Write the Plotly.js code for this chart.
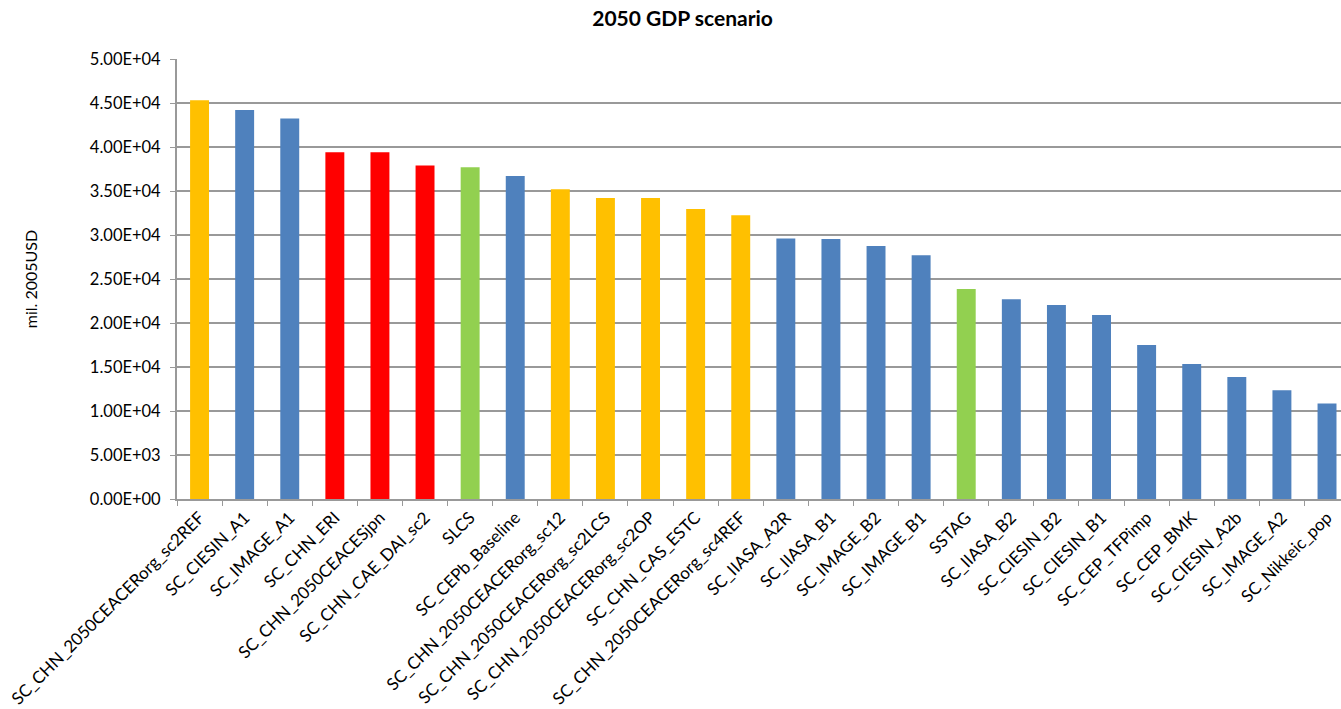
<!DOCTYPE html>
<html>
<head>
<meta charset="utf-8">
<script src="https://cdn.plot.ly/plotly-3.0.1.min.js"></script>
<style>html,body{margin:0;padding:0;background:#fff;}#chart{width:1341px;height:709px;}</style>
</head>
<body>
<div id="chart"></div>
<script>
const scenarios = [
  "SC_CHN_2050CEACERorg_sc2REF","SC_CIESIN_A1","SC_IMAGE_A1","SC_CHN_ERI","SC_CHN_2050CEACESjpn",
  "SC_CHN_CAE_DAI_sc2","SLCS","SC_CEPb_Baseline","SC_CHN_2050CEACERorg_sc12","SC_CHN_2050CEACERorg_sc2LCS",
  "SC_CHN_2050CEACERorg_sc2OP","SC_CHN_CAS_ESTC","SC_CHN_2050CEACERorg_sc4REF","SC_IIASA_A2R","SC_IIASA_B1",
  "SC_IMAGE_B2","SC_IMAGE_B1","SSTAG","SC_IIASA_B2","SC_CIESIN_B2",
  "SC_CIESIN_B1","SC_CEP_TFPimp","SC_CEP_BMK","SC_CIESIN_A2b","SC_IMAGE_A2","SC_Nikkeic_pop"
];
const gdp2050 = [
  45300, 44200, 43250, 39400, 39400,
  37900, 37700, 36700, 35200, 34200,
  34200, 32950, 32250, 29600, 29550,
  28750, 27700, 23850, 22700, 22050,
  20900, 17500, 15350, 13850, 12350, 10850
];
const barGroups = [
  "orange","blue","blue","red","red",
  "red","green","blue","orange","orange",
  "orange","orange","orange","blue","blue",
  "blue","blue","green","blue","blue",
  "blue","blue","blue","blue","blue","blue"
];
const groupColors = {orange:"#FFC000", blue:"#4F81BD", red:"#FF0000", green:"#92D050"};
const yTickVals = [0,5000,10000,15000,20000,25000,30000,35000,40000,45000,50000];
const yTickText = ["0.00E+00","5.00E+03","1.00E+04","1.50E+04","2.00E+04","2.50E+04","3.00E+04","3.50E+04","4.00E+04","4.50E+04","5.00E+04"];

const font = "Lato, 'Open Sans', 'Liberation Sans', sans-serif";

const trace = {
  type: "bar",
  x: scenarios,
  y: gdp2050,
  marker: {color: barGroups.map(g => groupColors[g])},
  hoverinfo: "x+y"
};

const layout = {
  width: 1341, height: 709,
  margin: {l: 177, r: 0, t: 59, b: 210},
  paper_bgcolor: "#fff", plot_bgcolor: "#fff",
  showlegend: false,
  bargap: 0.58,
  font: {family: font, color: "#000", size: 16},
  title: {text: "<b>2050 GDP scenario</b>", x: 0.509, xanchor: "center", y: 0.974, yanchor: "middle",
          font: {family: font, size: 21, color: "#000"}},
  xaxis: {
    type: "category",
    range: [-0.5, 25.31],
    tickangle: -45,
    ticks: "outside", tickson: "boundaries", ticklen: 5, tickcolor: "#999",
    showline: true, linecolor: "#999", linewidth: 2,
    showgrid: false,
    tickfont: {family: font, size: 17, color: "#000"},
    automargin: false
  },
  yaxis: {
    range: [0, 50000],
    tickvals: yTickVals, ticktext: yTickText,
    ticks: "outside", ticklen: 5, tickcolor: "#999",
    ticklabelstandoff: 6,
    showline: true, linecolor: "#999", linewidth: 2,
    showgrid: true, gridcolor: "#999", gridwidth: 1.5,
    zeroline: false,
    tickfont: {family: font, size: 16.5, color: "#000"},
    title: {text: "mil. 2005USD", standoff: 48, font: {family: font, size: 16, color: "#000"}},
    automargin: false
  }
};

Plotly.newPlot("chart", [trace], layout, {displayModeBar: false, staticPlot: true});
</script>
</body>
</html>
